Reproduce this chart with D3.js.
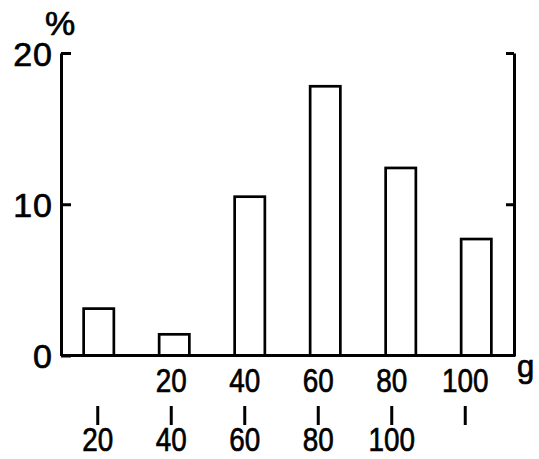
<!DOCTYPE html>
<html>
<head>
<meta charset="utf-8">
<script src="https://cdn.jsdelivr.net/npm/d3@7"></script>
<style>
html,body{margin:0;padding:0;background:#fff;}
svg{display:block;}
text{font-family:"Liberation Sans",Arial,sans-serif;fill:#000;stroke:#000;stroke-width:0.7px;}
</style>
</head>
<body>
<svg id="chart" width="539" height="459"></svg>
<script>
const categories = ["0-20","20-40","40-60","60-80","80-100","100-"];
const values = [3.1, 1.4, 10.5, 17.8, 12.4, 7.7];
const upperLabels = ["", "20", "40", "60", "80", "100"];
const lowerLabels = ["20", "40", "60", "80", "100", ""];
const yTicks = [0, 10, 20];
const yUnit = "%";
const xUnit = "g";

(function () {
const svg = d3.select("#chart");
const mLeft = 61, mRight = 514, mTop = 53, mBottom = 355.5;

const x = d3.scaleBand().domain(categories).range([mLeft, mRight]).paddingInner(0.6).paddingOuter(0.3);
const xl = d3.scaleBand().domain(categories).range([mLeft, 502]);
const y = d3.scaleLinear().domain([0, 20]).range([mBottom, mTop]);

// bars
svg.append("g").selectAll("rect").data(values).join("rect")
  .attr("x", (d, i) => x(categories[i]))
  .attr("y", d => y(d))
  .attr("width", x.bandwidth())
  .attr("height", d => y(0) - y(d))
  .attr("fill", "none")
  .attr("stroke", "#000")
  .attr("stroke-width", 2.7);

// left axis
const ya = svg.append("g").attr("transform", `translate(${mLeft},0)`)
  .call(d3.axisLeft(y).tickValues(yTicks).tickSizeInner(-10).tickSizeOuter(0).tickPadding(8).tickFormat(d3.format("d")));
ya.attr("font-family", null);
ya.select(".domain").attr("stroke-width", 3).attr("stroke", "#000");
ya.selectAll(".tick line").attr("stroke-width", 3).attr("stroke", "#000");
ya.selectAll(".tick text").attr("font-size", 34).attr("letter-spacing", 1).attr("dy", "0.36em");

// right axis
const yr = svg.append("g").attr("transform", `translate(${mRight},0)`)
  .call(d3.axisRight(y).tickValues([10, 20]).tickSizeInner(-8).tickSizeOuter(0).tickFormat(""));
yr.select(".domain").attr("stroke-width", 3).attr("stroke", "#000");
yr.selectAll(".tick line").attr("stroke-width", 3).attr("stroke", "#000");

// baseline
svg.append("line").attr("x1", mLeft).attr("x2", mRight + 1.5).attr("y1", y(0)).attr("y2", y(0))
  .attr("stroke", "#000").attr("stroke-width", 3);

// category labels
const lab = svg.append("g").attr("font-size", 34).attr("text-anchor", "middle");
categories.forEach((c, i) => {
  const cx = xl(c) + xl.bandwidth() / 2;
  lab.append("text").attr("transform", `translate(${cx},392) scale(0.82,1)`).text(upperLabels[i]);
  lab.append("line").attr("x1", cx).attr("x2", cx).attr("y1", 406).attr("y2", 425)
    .attr("stroke", "#000").attr("stroke-width", 3);
  lab.append("text").attr("transform", `translate(${cx},451) scale(0.82,1)`).text(lowerLabels[i]);
});

// units
svg.append("text").attr("x", 45).attr("y", 35).attr("font-size", 34).text(yUnit);
svg.append("text").attr("x", 517).attr("y", 377).attr("font-size", 31).text(xUnit);
})();
</script>
</body>
</html>
